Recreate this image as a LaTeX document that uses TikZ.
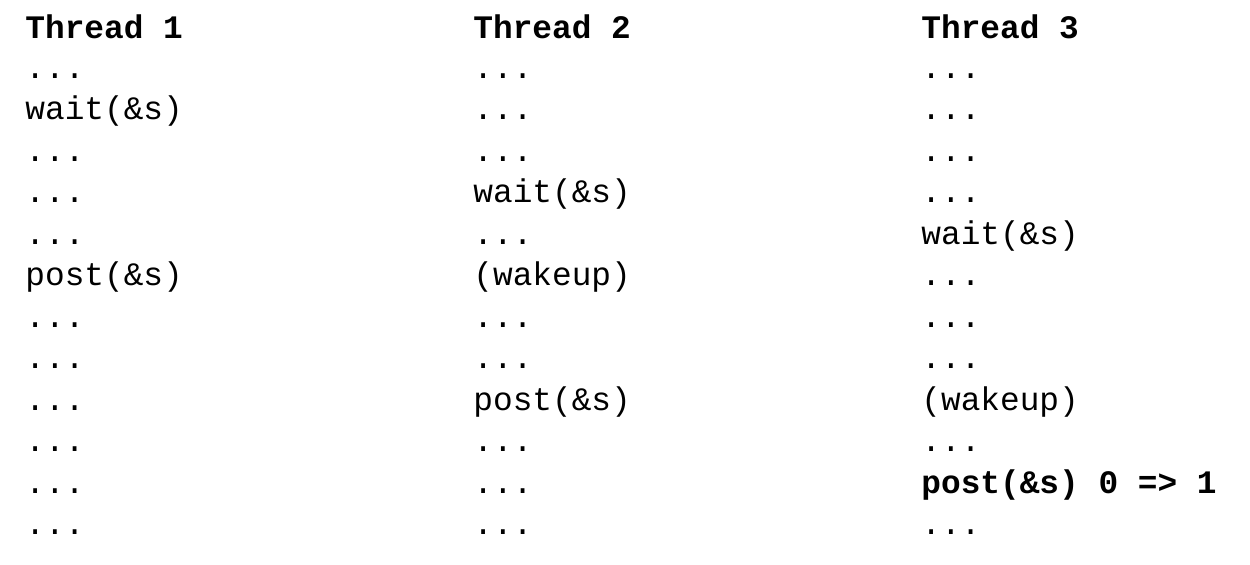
\documentclass[tikz,border=0pt]{standalone}
\usepackage{fontspec}
\setmonofont{Liberation Mono}

\tikzset{
	codeline/.style={anchor=base west, inner sep=0pt, font=\ttfamily\fontsize{16.4}{18}\selectfont},
	codebold/.style={codeline, font=\ttfamily\bfseries\fontsize{16.4}{18}\selectfont}
}

\begin{document}
\begin{tikzpicture}[x=0.5pt, y=-0.5pt]
			%%%%% START %%%%%
			
			\useasboundingbox (0, 0) rectangle (1250, 564);
			
			%% thread 1
			\node[codebold] (head1) at (25, 38) {Thread 1};
			\node[codeline] (t1r1) at (25, 78) {...};
			\node[codeline] (t1r2) at (25, 119.5) {wait(\&s)};
			\node[codeline] (t1r3) at (25, 161) {...};
			\node[codeline] (t1r4) at (25, 202.5) {...};
			\node[codeline] (t1r5) at (25, 244) {...};
			\node[codeline] (t1r6) at (25, 285.5) {post(\&s)};
			\node[codeline] (t1r7) at (25, 327) {...};
			\node[codeline] (t1r8) at (25, 368.5) {...};
			\node[codeline] (t1r9) at (25, 410) {...};
			\node[codeline] (t1r10) at (25, 451.5) {...};
			\node[codeline] (t1r11) at (25, 493) {...};
			\node[codeline] (t1r12) at (25, 534.5) {...};
			
			%% thread 2
			\node[codebold] (head2) at (473, 38) {Thread 2};
			\node[codeline] (t2r1) at (473, 78) {...};
			\node[codeline] (t2r2) at (473, 119.5) {...};
			\node[codeline] (t2r3) at (473, 161) {...};
			\node[codeline] (t2r4) at (473, 202.5) {wait(\&s)};
			\node[codeline] (t2r5) at (473, 244) {...};
			\node[codeline] (t2r6) at (473, 285.5) {(wakeup)};
			\node[codeline] (t2r7) at (473, 327) {...};
			\node[codeline] (t2r8) at (473, 368.5) {...};
			\node[codeline] (t2r9) at (473, 410) {post(\&s)};
			\node[codeline] (t2r10) at (473, 451.5) {...};
			\node[codeline] (t2r11) at (473, 493) {...};
			\node[codeline] (t2r12) at (473, 534.5) {...};
			
			%% thread 3
			\node[codebold] (head3) at (921, 38) {Thread 3};
			\node[codeline] (t3r1) at (921, 78) {...};
			\node[codeline] (t3r2) at (921, 119.5) {...};
			\node[codeline] (t3r3) at (921, 161) {...};
			\node[codeline] (t3r4) at (921, 202.5) {...};
			\node[codeline] (t3r5) at (921, 244) {wait(\&s)};
			\node[codeline] (t3r6) at (921, 285.5) {...};
			\node[codeline] (t3r7) at (921, 327) {...};
			\node[codeline] (t3r8) at (921, 368.5) {...};
			\node[codeline] (t3r9) at (921, 410) {(wakeup)};
			\node[codeline] (t3r10) at (921, 451.5) {...};
			\node[codebold] (t3r11) at (921, 493) {post(\&s) 0 => 1};
			\node[codeline] (t3r12) at (921, 534.5) {...};
			
			%%%%% END %%%%%
\end{tikzpicture}
\end{document}
